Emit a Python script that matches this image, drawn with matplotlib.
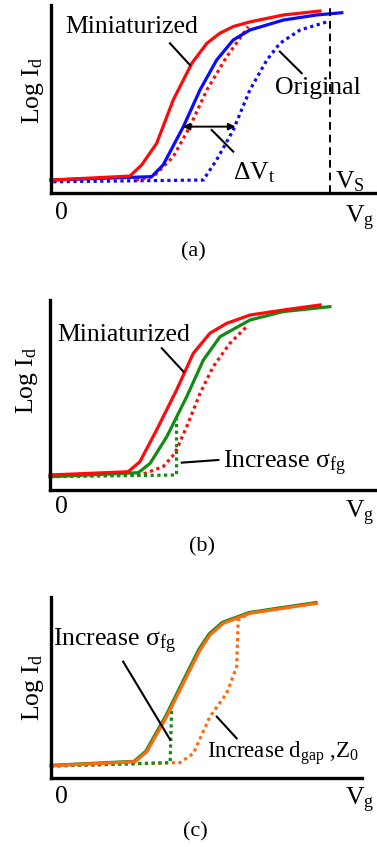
import matplotlib
matplotlib.use("Agg")
from matplotlib import pyplot as plt

plt.rcParams['font.family'] = ['Liberation Serif', 'DejaVu Serif']
plt.rcParams['mathtext.fontset'] = 'custom'
plt.rcParams['mathtext.rm'] = 'Liberation Serif'
plt.rcParams['mathtext.it'] = 'Liberation Serif:italic'

RED = '#ff0a0a'
BLUE = '#0a0aff'
GREEN = '#138a13'
ORANGE = '#ff6a10'

# ---- panel (a) ----
a_mini_x = [0, 24.2, 27.8, 32.4, 37.5, 43.2, 47.8, 51.8, 56, 61, 71.3, 82.5]
a_mini_y = [6.9, 9, 14.9, 26.4, 49.5, 69, 79.6, 85, 88.6, 91, 94.7, 96.8]
a_orig_x = [0, 30.9, 34.4, 40.6, 45.7, 50.8, 55.9, 61, 71.3, 81.5, 89.2]
a_orig_y = [6.9, 8.7, 14.9, 35.3, 54.8, 70.7, 81.4, 86.7, 92, 94.7, 95.9]
a_mini_dot_x = [26, 31.4, 37.5, 42.6, 47.8, 53.9, 60.5]
a_mini_dot_y = [6.9, 8.7, 19.3, 35.3, 54.8, 72.5, 88.5]
a_orig_dot_x = [0.7, 46.7, 50.8, 55.9, 61, 66.2, 70.2, 76.4, 84.6]
a_orig_dot_y = [6, 6.9, 17.6, 33.5, 54.8, 70.7, 79.6, 86.7, 91]
a_vs = 85.6

# ---- panel (b) ----
b_mini_x = [0, 23.9, 27.5, 32.6, 38.7, 43.8, 48.9, 54, 61.2, 71.3, 82.6]
b_mini_y = [7.9, 9.6, 14.9, 31.6, 52.6, 71.9, 82.5, 87.7, 92.1, 94.7, 97.4]
b_sig_x = [0, 27, 30.6, 35.7, 41.8, 46.9, 52, 61.2, 71.3, 85.6]
b_sig_y = [7, 9.1, 14, 28, 49.1, 68.4, 80.7, 89.5, 93.9, 96.5]
b_mini_dot_x = [0, 27.5, 29.6, 34.6, 38.2, 41.8, 45.9, 49.9, 55, 60.6]
b_mini_dot_y = [7.9, 7.9, 9.1, 12.3, 19.3, 33.3, 50.9, 64.9, 77.2, 86.8]
b_sig_dot_x = [0, 38.7, 38.7]
b_sig_dot_y = [7, 7.9, 39.5]

# ---- panel (c) ----
c_sig_x = [0, 26.7, 30.5, 36.9, 43.3, 47.6, 50.8, 55.1, 63.7, 74.4, 85.1]
c_sig_y = [7.0, 9.2, 14.8, 34.3, 56.5, 71.2, 79.5, 86.0, 91.4, 94.2, 96.9]
c_gap_x = [0, 27, 30.8, 37.2, 43.6, 47.9, 51.1, 55.4, 64, 74.7, 85.4]
c_gap_y = [6.8, 9, 14.5, 33.9, 56, 70.7, 79, 85.5, 91, 93.8, 96.5]
c_sig_dot_x = [0, 38.3, 38.8]
c_sig_dot_y = [6.6, 8.5, 38.5]
c_gap_dot_x = [0, 41.5, 45.8, 51.1, 56.5, 59.7, 60.2, 64, 74.7, 85.4]
c_gap_dot_y = [6.6, 8.5, 13.6, 33.9, 46.8, 61.5, 87.3, 91.2, 94.0, 96.8]

W, H = 377, 847
FS = 18.5
LW = 2.3
DOT = (0, (1, 1.1))

fig = plt.figure(figsize=(W / 100, H / 100), dpi=100)


def make_ax(left, top, right, bottom):
    ax = fig.add_axes([left / W, 1 - bottom / H, (right - left) / W, (bottom - top) / H])
    ax.set_xlim(0, 100)
    ax.set_ylim(0, 100)
    for s in ['top', 'right']:
        ax.spines[s].set_visible(False)
    for s in ['left', 'bottom']:
        ax.spines[s].set_linewidth(2.4)
        ax.spines[s].set_capstyle('projecting')
    ax.set_xticks([])
    ax.set_yticks([])
    ax.patch.set_alpha(0)
    return ax


def leader(ax, x0, y0, x1, y1):
    ax.plot([x0, x1], [y0, y1], color='black', lw=1.5, clip_on=False)


def common_text(ax, vg_xy, zero_xy, lab_xy, lab, logid_xy):
    ax.text(*vg_xy, r'V$_\mathrm{g}$', fontsize=FS, ha='left', va='center')
    ax.text(*zero_xy, '0', fontsize=FS, ha='left', va='center')
    ax.text(*lab_xy, lab, fontsize=16, ha='center', va='center')
    ax.text(*logid_xy, r'Log I$_\mathrm{d}$', fontsize=FS, ha='center', va='center', rotation=90)


# (a)
ax = make_ax(51, 5, 377, 193)
ax.plot(a_orig_dot_x, a_orig_dot_y, color=BLUE, lw=LW, ls=DOT, clip_on=False)
ax.plot(a_mini_dot_x, a_mini_dot_y, color=RED, lw=LW, ls=DOT, clip_on=False)
ax.plot(a_orig_x, a_orig_y, color=BLUE, lw=LW, clip_on=False)
ax.plot(a_mini_x, a_mini_y, color=RED, lw=LW, clip_on=False)
ax.plot([a_vs, a_vs], [0, 100], color='black', lw=1.4, ls=(0, (4, 2.5)))
ax.annotate('', xy=(40.4, 35.3), xytext=(56.6, 35.3),
            arrowprops=dict(arrowstyle='<|-|>', color='black', lw=1.4, mutation_scale=10,
                            shrinkA=0, shrinkB=0))
leader(ax, 36.5, 79.6, 42.6, 68.1)
leader(ax, 70.2, 75.2, 76.9, 63.7)
leader(ax, 49.3, 33.5, 55.9, 22)
ax.text(24.8, 88.5, 'Miniaturized', fontsize=FS, ha='center', va='center')
ax.text(81.9, 55.9, 'Original', fontsize=FS, ha='center', va='center')
ax.text(55.8, 10.6, r'ΔV$_\mathrm{t}$', fontsize=FS, ha='left', va='center')
ax.text(87.1, 5.9, r'V$_\mathrm{S}$', fontsize=FS, ha='left', va='center')
common_text(ax, (90.3, -13.3), (1.2, -10.6), (43.6, -31.4), '(a)', (-5.5, 54.8))

# (b)
ax = make_ax(50, 300, 377, 490)
ax.plot(b_mini_dot_x, b_mini_dot_y, color=RED, lw=LW, ls=DOT, clip_on=False)
ax.plot(b_sig_dot_x, b_sig_dot_y, color=GREEN, lw=LW, ls=DOT, clip_on=False)
ax.plot(b_sig_x, b_sig_y, color=GREEN, lw=LW, clip_on=False)
ax.plot(b_mini_x, b_mini_y, color=RED, lw=LW, clip_on=False)
leader(ax, 34.2, 74.6, 40.8, 62.3)
leader(ax, 40.3, 14.4, 51.5, 15.8)
ax.text(22.4, 81.6, 'Miniaturized', fontsize=FS, ha='center', va='center')
ax.text(53, 14, r'Increase σ$_\mathrm{fg}$', fontsize=FS, ha='left', va='center')
common_text(ax, (90.2, -12.3), (1.5, -8.8), (46.6, -29.8), '(b)', (-7.1, 57.9))

# (c)
ax = make_ax(51, 597, 362, 778)
ax.plot(c_gap_dot_x, c_gap_dot_y, color=ORANGE, lw=LW, ls=DOT, clip_on=False)
ax.plot(c_sig_dot_x, c_sig_dot_y, color=GREEN, lw=LW, ls=DOT, clip_on=False)
ax.plot(c_sig_x, c_sig_y, color=GREEN, lw=LW, clip_on=False)
ax.plot(c_gap_x, c_gap_y, color=ORANGE, lw=LW, clip_on=False)
leader(ax, 23.2, 64.3, 38.3, 21.2)
leader(ax, 53.3, 33.9, 59.7, 21.9)
ax.text(0.7, 75.3, r'Increase σ$_\mathrm{fg}$', fontsize=FS, ha='left', va='center')
ax.text(50.3, 13.6, r'Increase d$_\mathrm{gap}$ ,Z$_\mathrm{0}$', fontsize=16.5, ha='left', va='center')
common_text(ax, (94.5, -12.2), (1.3, -10.3), (46.3, -29.7), '(c)', (-5.7, 50.4))

fig.savefig('out.png', dpi=100)
